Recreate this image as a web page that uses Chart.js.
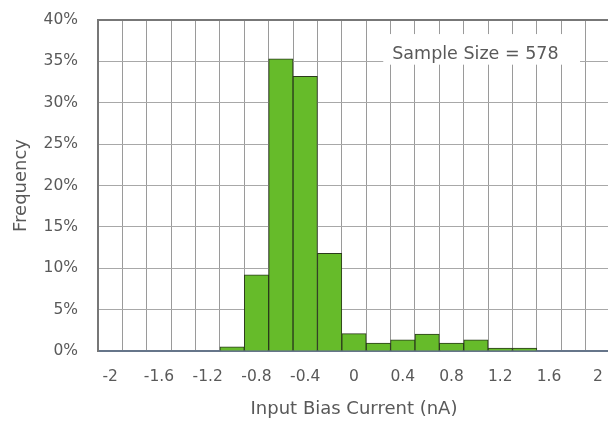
<!DOCTYPE html>
<html>
<head>
<meta charset="utf-8">
<script src="https://cdn.jsdelivr.net/npm/chart.js@4.4.0/dist/chart.umd.min.js"></script>
<style>
  html, body { margin: 0; padding: 0; background: #fff; overflow: hidden; }
  #wrap { width: 612px; height: 421px; }
</style>
</head>
<body>
<div id="wrap"><canvas id="c" width="612" height="421"></canvas></div>
<script>
const categories = ['-2','-1.8','-1.6','-1.4','-1.2','-1','-0.8','-0.6','-0.4','-0.2','0','0.2','0.4','0.6','0.8','1','1.2','1.4','1.6','1.8','2'];
const tickLabels = ['-2','-1.6','-1.2','-0.8','-0.4','0','0.4','0.8','1.2','1.6','2'];
const frequency = [0,0,0,0,0,0.5,9.2,35.3,33.2,11.8,2.1,0.95,1.35,2.05,0.95,1.35,0.35,0.35,0,0,0];
const yTicks = [0,5,10,15,20,25,30,35,40];
const annotationText = 'Sample Size = 578';

const FONT = '"DejaVu Sans", sans-serif';
const TXT = '#595959';

const boxPlugin = {
  id: 'sampleBox',
  afterDatasetsDraw(chart) {
    const ctx = chart.ctx;
    const x = chart.scales.x, y = chart.scales.y;
    const bw = x.getPixelForValue(1) - x.getPixelForValue(0);
    const left = x.getPixelForValue(11) + 0.2 * bw;
    const right = x.getPixelForValue(19) + 0.27 * bw;
    const top = y.getPixelForValue(38.3);
    const bottom = y.getPixelForValue(34.6);
    ctx.save();
    ctx.fillStyle = '#fff';
    ctx.fillRect(left, top, right - left, bottom - top);
    ctx.fillStyle = TXT;
    ctx.font = '17.5px ' + FONT;
    ctx.textAlign = 'left';
    ctx.textBaseline = 'alphabetic';
    ctx.fillText(annotationText, left + 9, bottom - 6);
    ctx.restore();
  }
};

new Chart(document.getElementById('c'), {
  type: 'bar',
  data: {
    labels: categories,
    datasets: [{
      data: frequency,
      backgroundColor: '#66bb2a',
      borderColor: '#2b3a1c',
      borderWidth: 1,
      barPercentage: 1,
      categoryPercentage: 1,
      borderSkipped: 'bottom'
    }]
  },
  options: {
    responsive: false,
    animation: false,
    devicePixelRatio: 1,
    layout: { padding: { top: 20, right: 2, left: 0, bottom: 0 } },
    plugins: { legend: { display: false }, tooltip: { enabled: false } },
    scales: {
      x: {
        offset: true,
        grid: { offset: true, color: '#9a9a9a', lineWidth: 1, drawTicks: false },
        border: { color: '#66758a', width: 2 },
        ticks: {
          autoSkip: false, maxRotation: 0, color: TXT, padding: 17,
          font: { family: FONT, size: 15.5 },
          callback: function (v, i) { const l = categories[i]; return tickLabels.includes(l) ? l : ''; }
        },
        title: { display: true, text: 'Input Bias Current (nA)', color: TXT, font: { family: FONT, size: 18 }, padding: { top: 4, bottom: 1 } },
        afterFit(s) { s.height = 70; s.paddingLeft = 0; s.paddingRight = 0; }
      },
      y: {
        min: 0, max: 40,
        afterBuildTicks(s) { s.ticks = yTicks.map(v => ({ value: v })); },
        grid: { color: (c) => c.tick && c.tick.value === 40 ? '#777' : '#a8a8a8', lineWidth: (c) => c.tick && c.tick.value === 40 ? 2 : 1, drawTicks: false },
        border: { color: '#777', width: 2 },
        ticks: { color: TXT, padding: 20, font: { family: FONT, size: 15.5 }, callback: v => v + '%' },
        title: { display: true, text: 'Frequency', color: TXT, font: { family: FONT, size: 18 }, padding: { top: 11, bottom: 2 } },
        afterFit(s) { s.width = 98; s.paddingTop = 0; s.paddingBottom = 0; }
      }
    }
  },
  plugins: [boxPlugin]
});
</script>
</body>
</html>
